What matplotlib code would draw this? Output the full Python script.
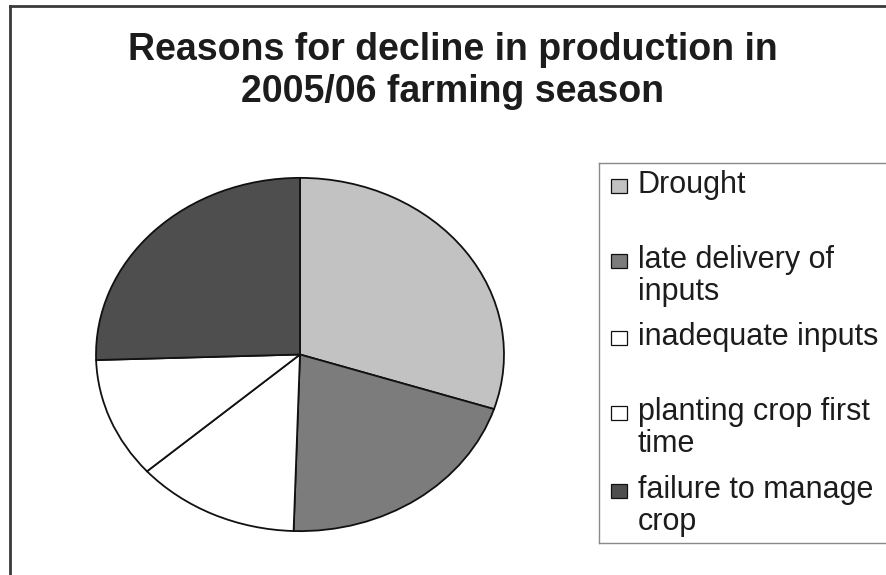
import matplotlib
matplotlib.use('Agg')
import matplotlib.pyplot as plt
from matplotlib.patches import Rectangle

# shares (percent)
reasons = ['Drought', 'late delivery of\ninputs', 'inadequate inputs',
           'planting crop first\ntime', 'failure to manage\ncrop']
shares = [30, 20.5, 13, 11, 25.5]
colors = ['#c2c2c2', '#7c7c7c', '#ffffff', '#ffffff', '#4e4e4e']

W, H = 887, 575
fig = plt.figure(figsize=(W / 100, H / 100), dpi=100)
fig.patch.set_facecolor('white')

def px(x0, y0, x1, y1):
    # pixel box (top-left origin) -> figure fraction rect
    return [x0 / W, 1 - y1 / H, (x1 - x0) / W, (y1 - y0) / H]

# outer chart frame (top and left visible, rest cut off)
frame = fig.add_axes(px(10, 6, 900, 600))
frame.set_xticks([])
frame.set_yticks([])
frame.set_facecolor('none')
for s in frame.spines.values():
    s.set_color('#3a3a3a')
    s.set_linewidth(2)

# title
tfont = dict(family='Liberation Sans', fontsize=27, fontweight='bold', color='#1c1c1c',
             ha='center', va='baseline')
fig.text(453 / W, 1 - 60 / H, 'Reasons for decline in production in', **tfont)
fig.text(453 / W, 1 - 102 / H, '2005/06 farming season', **tfont)

# pie (scan is stretched horizontally, so keep aspect auto)
ax = fig.add_axes(px(95, 177, 505, 532))
ax.pie(shares, colors=colors, startangle=90, counterclock=False,
       wedgeprops=dict(edgecolor='#111111', linewidth=1.3))
ax.set_aspect('auto')
ax.set_xlim(-1.005, 1.005)
ax.set_ylim(-1.005, 1.005)
ax.axis('off')

# legend box, laid out like the Excel one
lax = fig.add_axes(px(599, 163, 900, 543))
lax.set_xlim(0, 301)
lax.set_ylim(380, 0)
lax.set_xticks([])
lax.set_yticks([])
for s in lax.spines.values():
    s.set_color('#8a8a8a')
    s.set_linewidth(1)

baselines = [30, 105, 182, 257, 335]
for lab, col, yb in zip(reasons, colors, baselines):
    lax.add_patch(Rectangle((12, yb - 14), 16, 14, facecolor=col,
                            edgecolor='#111111', linewidth=0.9))
    for k, line in enumerate(lab.split('\n')):
        lax.text(39, yb + 32 * k, line, family='Liberation Sans', fontsize=22,
                 color='#1c1c1c', ha='left', va='baseline')

fig.savefig('out.png', dpi=100)
